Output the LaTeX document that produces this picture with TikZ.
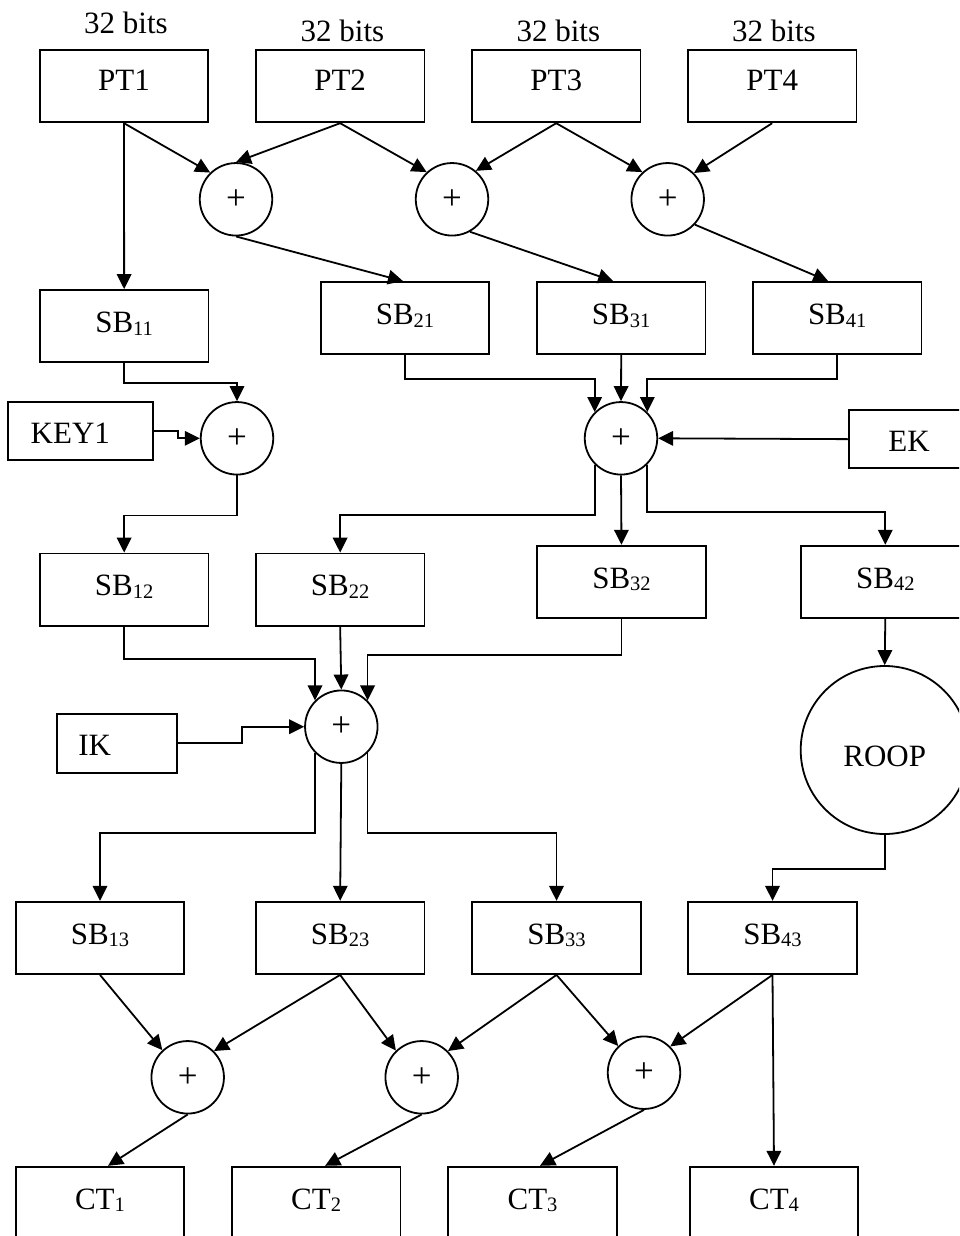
\documentclass[tikz,border=0pt]{standalone}
\usepackage{fontspec}
\setmainfont{Liberation Serif}
\usetikzlibrary{arrows.meta}
\newcommand{\subx}[1]{\raisebox{-2.7pt}{\fontsize{20.5}{24}\selectfont #1}}
\newcommand{\dfont}{\fontsize{31}{36}\selectfont}
\tikzset{
  box/.style={draw, rectangle, inner sep=0pt, minimum width=168.5pt, minimum height=72.3pt,
              text height=24pt, text depth=11.5pt, font=\dfont},
  ptbox/.style={box, text depth=15pt},
  keybox/.style={draw, rectangle, inner sep=0pt, text height=24pt, text depth=0pt, font=\dfont},
  xor/.style={draw, circle, inner sep=0pt, minimum size=72.5pt, font=\fontsize{35}{38}\selectfont},
  lbl/.style={anchor=base, inner sep=0pt, font=\dfont},
  arr/.style={-{Triangle[length=15pt,width=14.5pt]}, line join=miter},
}
\begin{document}
\begin{tikzpicture}[x=1pt,y=-1pt,line width=1.8pt]
\useasboundingbox (0,0) rectangle (959,1236);
\fill[white] (0,0) rectangle (959,1236);
\clip (0,0) rectangle (959,1236);

% top labels
\node[lbl] (l1) at (126,33.3) {32 bits};
\node[lbl] (l2) at (342.5,41.7) {32 bits};
\node[lbl] (l3) at (558.3,41.7) {32 bits};
\node[lbl] (l4) at (774,41.7) {32 bits};

% plaintext boxes
\node[ptbox] (pt1) at (124,86.15) {PT1};
\node[ptbox] (pt2) at (340.15,86.15) {PT2};
\node[ptbox] (pt3) at (556.2,86.15) {PT3};
\node[ptbox] (pt4) at (772.2,86.15) {PT4};

% first xor row
\node[xor] (c1) at (236,199.3) {+};
\node[xor] (c2) at (452,199.3) {+};
\node[xor] (c3) at (667.7,199.3) {+};

% SB row 1
\node[box] (sb11) at (124.15,326.15) {SB\subx{11}};
\node[box] (sb21) at (405,318.15) {SB\subx{21}};
\node[box] (sb31) at (621.2,318.15) {SB\subx{31}};
\node[box] (sb41) at (837.2,318.15) {SB\subx{41}};

% keys and xors
\node[keybox, minimum width=145pt, minimum height=57.7pt] (key1) at (80.8,431.15) {\makebox[145pt][l]{\hspace{22.4pt}KEY1}};
\node[xor] (ck) at (237,438.3) {+};
\node[xor] (ce) at (621,438.3) {+};
\node[keybox, minimum width=130pt, minimum height=58.3pt] (ek) at (914,439.15) {\makebox[130pt][l]{\hspace{39.3pt}EK}};

% SB row 2
\node[box] (sb12) at (124.15,589.65) {SB\subx{12}};
\node[box] (sb22) at (340.15,589.65) {SB\subx{22}};
\node[box] (sb32) at (621.5,581.85) {SB\subx{32}};
\node[box] (sb42) at (885.3,581.85) {SB\subx{42}};

% IK, xor, ROOP
\node[keybox, minimum width=120.6pt, minimum height=58.7pt] (ik) at (117,743.35) {\makebox[120.6pt][l]{\hspace{21.6pt}IK}};
\node[xor] (ci) at (341.3,726.7) {+};
\node[draw, circle, inner sep=0pt, minimum size=168pt, font=\dfont, text height=32pt, text depth=0pt] (roop) at (884.7,750) {ROOP};

% SB row 3
\node[box] (sb13) at (100,937.85) {SB\subx{13}};
\node[box] (sb23) at (340.15,937.85) {SB\subx{23}};
\node[box] (sb33) at (556.5,937.85) {SB\subx{33}};
\node[box] (sb43) at (772.5,937.85) {SB\subx{43}};

% bottom xors
\node[xor] (ca) at (187.7,1077.3) {+};
\node[xor] (cb) at (421.7,1077.3) {+};
\node[xor] (cc) at (644,1072.7) {+};

% ciphertext boxes
\node[box] (ct1) at (100,1202.85) {CT\subx{1}};
\node[box] (ct2) at (316.15,1202.85) {CT\subx{2}};
\node[box] (ct3) at (532.5,1202.85) {CT\subx{3}};
\node[box] (ct4) at (774,1202.85) {CT\subx{4}};

% ---- connectors ----
\draw[arr] (pt1.south) -- (c1.134);
\draw[arr] (pt2.south) -- (c1.north);
\draw[arr] (pt2.south) -- (c2.133);
\draw[arr] (pt3.south) -- (c2.50);
\draw[arr] (pt3.south) -- (c3.133);
\draw[arr] (pt4.south) -- (c3.45);
\draw[arr] (pt1.south) -- (sb11.north);
\draw[arr] (c1.south) -- ([xshift=-2pt]sb21.north);
\draw[arr] (c2.-61) -- ([xshift=-8pt]sb31.north);
\draw[arr] (c3.-43) -- ([xshift=-9pt]sb41.north);

\draw[arr] (sb11.south) -- ++(0,19.4) -| (ck.north);
\draw[arr] (key1.east) -- ++(23.4,0) |- (ck.west);
\draw[arr] (ck.south) -- ++(0,40) -| (sb12.north);

\draw[arr] (sb21.south) -- ++(0,23.7) -| (ce.135);
\draw[arr] (sb31.south) -- (ce.north);
\draw[arr] (sb41.south) -- ++(0,23.7) -| (ce.45);
\draw[arr] (ek.west) -- (ce.east);
\draw[arr] (ce.225) -- ++(0,50.8) -| (sb22.north);
\draw[arr] (ce.south) -- (sb32.north);
\draw[arr] (ce.-45) -- ++(0,47.2) -| (sb42.north);

\draw[arr] (sb42.south) -- (roop.north);
\draw[arr] (roop.south) -- ++(0,34.3) -| (sb43.north);

\draw[arr] (sb12.south) -- ++(0,32.3) -| (ci.135);
\draw[arr] (sb22.south) -- (ci.north);
\draw[arr] (sb32.south) -- ++(0,36.3) -| (ci.45);
\draw[arr] (ik.east) -- ++(63.7,0) |- (ci.west);
\draw[arr] (ci.225) -- ++(0,80.4) -| (sb13.north);
\draw[arr] (ci.south) -- (sb23.north);
\draw[arr] (ci.-45) -- ++(0,80.4) -| (sb33.north);

\draw[arr] (sb13.south) -- (ca.133);
\draw[arr] (sb23.south) -- (ca.45);
\draw[arr] (sb23.south) -- (cb.134);
\draw[arr] (sb33.south) -- (cb.45);
\draw[arr] (sb33.south) -- (cc.134);
\draw[arr] (sb43.south) -- (cc.45);
\draw[arr] (sb43.south) -- (ct4.north);
\draw[arr] (ca.south) -- ([xshift=8pt]ct1.north);
\draw[arr] (cb.south) -- ([xshift=9pt]ct2.north);
\draw[arr] (cc.south) -- ([xshift=7.5pt]ct3.north);
\end{tikzpicture}
\end{document}
